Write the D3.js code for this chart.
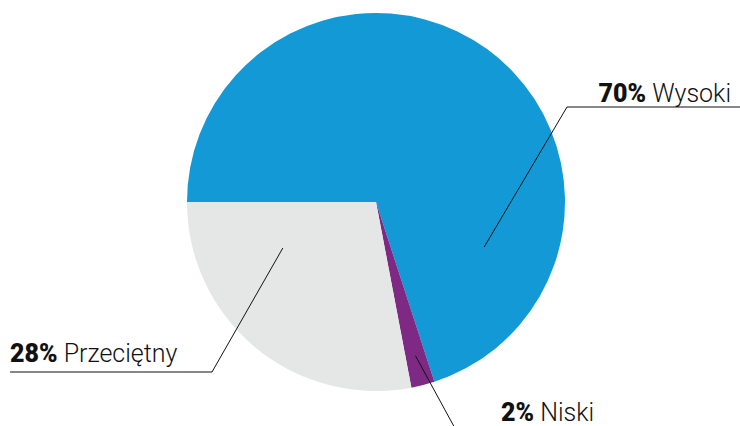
<!DOCTYPE html>
<html>
<head>
<meta charset="utf-8">
<script src="https://cdn.jsdelivr.net/npm/d3@7"></script>
<style>
  body { margin: 0; background: #fff; }
  text { font-family: Roboto, "Open Sans", sans-serif; }
</style>
</head>
<body>
<svg id="chart" width="740" height="426"></svg>
<script>
// data
var categories = ["Wysoki", "Niski", "Przeciętny"];
var values = [70, 2, 28];
var colours = ["#1299d6", "#7e2a84", "#e5e7e6"];

// where each leader line starts (angle from top, fraction of radius) and where it bends
var leaders = [
    { angle: 112.6, f: 0.62, elbow: [567, 107], end: [740, 107], tx: 731, ty: 102, anchor: "end" },
    { angle: 165.6, f: 0.84, elbow: null, end: [457, 432], tx: 501, ty: 421, anchor: "start" },
    { angle: 243.7, f: 0.55, elbow: [212, 372], end: [10, 372], tx: 10, ty: 362, anchor: "start" }
];

var svg = d3.select("#chart"),
    cx = 376,
    cy = 202,
    r = 189;

var pie = d3.pie()
    .sort(null)
    .startAngle(-Math.PI / 2)
    .endAngle(Math.PI * 1.5);

var arc = d3.arc().innerRadius(0).outerRadius(r);

var g = svg.append("g").attr("transform", "translate(" + cx + "," + cy + ")");

g.selectAll("path")
    .data(pie(values))
    .enter().append("path")
    .attr("d", arc)
    .attr("fill", function(d, i) { return colours[i]; });

// leader lines + labels
leaders.forEach(function(l, i) {
    var a = l.angle * Math.PI / 180;
    var p0 = [cx + r * l.f * Math.sin(a), cy - r * l.f * Math.cos(a)];
    var pts = [p0];
    if (l.elbow) pts.push(l.elbow);
    pts.push(l.end);
    svg.append("path")
        .attr("d", d3.line()(pts))
        .attr("fill", "none")
        .attr("stroke", "#111")
        .attr("stroke-width", 1);

    var t = svg.append("text")
        .attr("x", l.tx)
        .attr("y", l.ty)
        .attr("text-anchor", l.anchor)
        .attr("font-size", 25)
        .attr("fill", "#111");
    t.append("tspan").attr("font-weight", 900).text(values[i] + "%");
    t.append("tspan").attr("font-weight", 300).text(" " + categories[i]);
});
</script>
</body>
</html>
